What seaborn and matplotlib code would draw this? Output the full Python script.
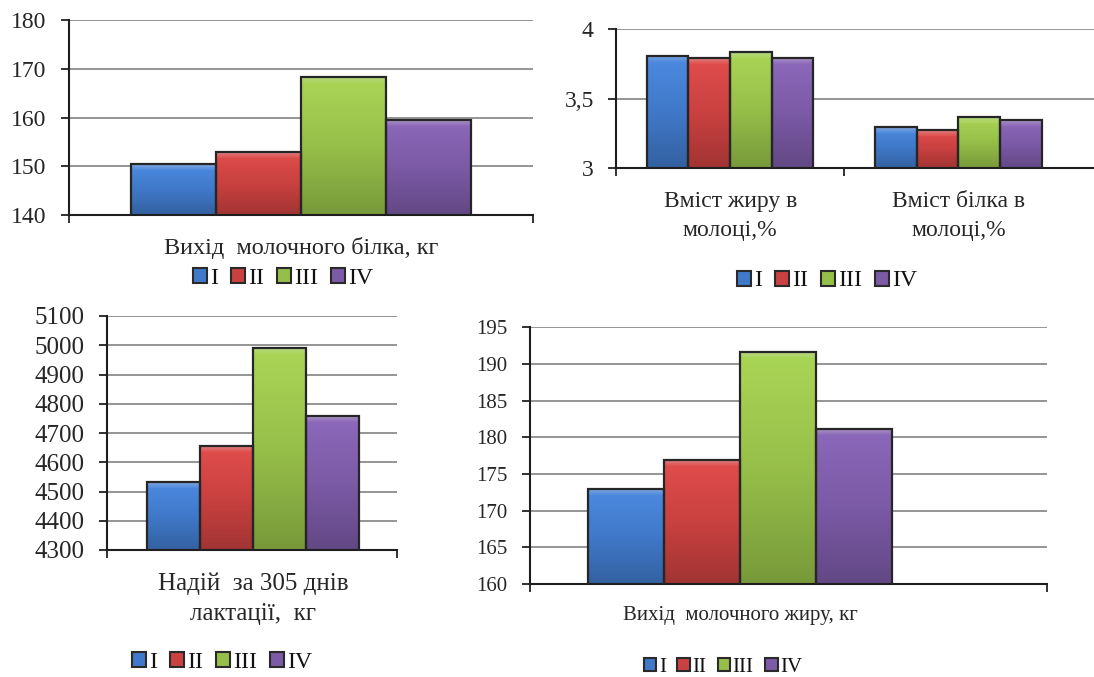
import numpy as np
import pandas as pd
import matplotlib
matplotlib.use("Agg")
import matplotlib.pyplot as plt
import seaborn as sns
from matplotlib.colors import LinearSegmentedColormap, to_rgb
from matplotlib.patches import Patch

# ---- data -------------------------------------------------------------
groups = ["I", "II", "III", "IV"]
group_colors = ["#4079c9", "#c94140", "#96bf49", "#7b5aa6"]

protein_yield_label = "Вихід  молочного білка, кг"
protein_yield = [150.5, 153.0, 168.3, 159.5]
protein_yield_ticks = [140, 150, 160, 170, 180]

content_labels = ["Вміст жиру в\nмолоці,%", "Вміст білка в\nмолоці,%"]
fat_content = [3.81, 3.79, 3.835, 3.79]
protein_content = [3.30, 3.275, 3.37, 3.345]
content_ticks = [3.0, 3.5, 4.0]
content_tick_labels = ["3", "3,5", "4"]

milk_yield_label = "Надій  за 305 днів\nлактації,  кг"
milk_yield = [4532, 4655, 4990, 4757]
milk_yield_ticks = [4300, 4400, 4500, 4600, 4700, 4800, 4900, 5000, 5100]

fat_yield_label = "Вихід  молочного жиру, кг"
fat_yield = [173.0, 176.9, 191.6, 181.2]
fat_yield_ticks = [160, 165, 170, 175, 180, 185, 190, 195]

# ---- style ------------------------------------------------------------
sns.set_theme(style="white")
plt.rcParams["font.family"] = ["Liberation Serif", "DejaVu Serif"]
plt.rcParams["text.color"] = "#111111"

W, H = 1094, 677
fig = plt.figure(figsize=(W / 100, H / 100), dpi=100)


def axes_px(left, right, top, bottom):
    return fig.add_axes([left / W, 1 - bottom / H, (right - left) / W, (bottom - top) / H])


def shade_bars(ax, ylow):
    """Vertical gradient fill plus a light bevel on top of every bar."""
    ax_h_px = ax.get_window_extent().height
    y0, y1 = ax.get_ylim()
    bevel = (y1 - y0) / ax_h_px * 6
    for p in list(ax.patches):
        x = p.get_x()
        w = p.get_width()
        top = p.get_y() + p.get_height()
        base = np.array(to_rgb(p.get_facecolor()))
        dark = base * 0.80
        light = np.clip(base * 1.08 + 0.03, 0, 1)
        cmap = LinearSegmentedColormap.from_list("g", [dark, base, light])
        grad = np.linspace(0, 1, 256).reshape(-1, 1)
        im = ax.imshow(grad, extent=[x, x + w, ylow, top], origin="lower",
                       cmap=cmap, aspect="auto", zorder=2, interpolation="bicubic")
        im.set_clip_path(p)
        hl = np.clip(base + (1 - base) * 0.35, 0, 1)
        cmap2 = LinearSegmentedColormap.from_list("h", [light, hl])
        im2 = ax.imshow(grad, extent=[x, x + w, top - bevel, top], origin="lower",
                        cmap=cmap2, aspect="auto", zorder=2.1, interpolation="bicubic")
        im2.set_clip_path(p)
        p.set_facecolor("none")
        p.set_edgecolor("#262626")
        p.set_linewidth(1.6)
        p.set_zorder(3)


def draw_panel(ax, df, yticks, ylabels, xlim, ylow, yhigh, tick_fs, cat_fs,
               boundaries, width=0.8):
    sns.barplot(data=df, x="pos", y="value", hue="group", hue_order=groups,
                palette=group_colors, native_scale=True, width=width,
                saturation=1, legend=False, ax=ax, errorbar=None)
    ax.set_xlim(*xlim)
    ax.set_ylim(ylow, yhigh)
    ax.set_yticks(yticks)
    ax.set_yticklabels(ylabels, fontsize=tick_fs)
    cats = sorted(df["pos"].unique())
    ax.set_xticks(cats)
    ax.set_xticklabels(df.drop_duplicates("pos").sort_values("pos")["category"],
                       fontsize=cat_fs, linespacing=1.5)
    ax.set_xticks(boundaries, minor=True)
    ax.tick_params(axis="x", which="major", length=0, pad=16)
    ax.tick_params(axis="x", which="minor", length=6, width=1.3, color="#222222",
                   direction="out", bottom=True)
    ax.tick_params(axis="y", length=6, width=1.3, color="#222222", direction="out",
                   left=True, pad=10)
    ax.set_xlabel("")
    ax.set_ylabel("")
    ax.yaxis.grid(True, color="#8c8c8c", linewidth=1.3)
    ax.xaxis.grid(False)
    ax.set_axisbelow(True)
    for s in ("top", "right"):
        ax.spines[s].set_visible(False)
    for s in ("left", "bottom"):
        ax.spines[s].set_color("#1e1e1e")
        ax.spines[s].set_linewidth(1.5)
    ax.set_facecolor("white")
    shade_bars(ax, ylow)
    ax.set_xlim(*xlim)
    ax.set_ylim(ylow, yhigh)


def add_legend(cx, cy, fs):
    handles = [Patch(facecolor=c, edgecolor="#2a2a2a", linewidth=1.5, label=g)
               for g, c in zip(groups, group_colors)]
    fig.legend(handles=handles, loc="center", bbox_to_anchor=(cx / W, 1 - cy / H),
               ncol=4, frameon=False, fontsize=fs, handlelength=0.6, handleheight=0.6,
               handletextpad=0.12, columnspacing=0.55, borderaxespad=0)


def single(values, label):
    return pd.DataFrame({"pos": [0.0] * len(groups), "category": [label] * len(groups),
                         "group": groups, "value": values})


# Panel 1: protein yield
ax1 = axes_px(69, 533, 20, 215)
draw_panel(ax1, single(protein_yield, protein_yield_label), protein_yield_ticks,
           [str(t) for t in protein_yield_ticks], (-0.546, 0.546), 140, 180,
           17, 17.5, [-0.546, 0.546])
add_legend(283, 278, 17)

# Panel 2: fat and protein content
df2 = pd.DataFrame({
    "pos": [0.0] * 4 + [1.0] * 4,
    "category": [content_labels[0]] * 4 + [content_labels[1]] * 4,
    "group": groups * 2,
    "value": fat_content + protein_content,
})
ax2 = axes_px(616, 1094, 29.3, 168.3)
draw_panel(ax2, df2, content_ticks, content_tick_labels, (-0.50, 1.594), 3.0, 4.0,
           17, 17, [-0.50, 0.5], width=0.73)
add_legend(827, 281, 17)

# Panel 3: milk yield
ax3 = axes_px(107, 397, 316, 550)
draw_panel(ax3, single(milk_yield, milk_yield_label), milk_yield_ticks,
           [str(t) for t in milk_yield_ticks], (-0.55, 0.543), 4300, 5100,
           18, 18, [-0.55, 0.543])
add_legend(222, 662, 17)

# Panel 4: fat yield
ax4 = axes_px(530, 1047, 327.3, 584)
draw_panel(ax4, single(fat_yield, fat_yield_label), fat_yield_ticks,
           [str(t) for t in fat_yield_ticks], (-0.553, 0.808), 160, 195,
           15, 15, [-0.553, 0.808])
add_legend(723, 667, 15)

fig.savefig("out.png", dpi=100, facecolor="white")
